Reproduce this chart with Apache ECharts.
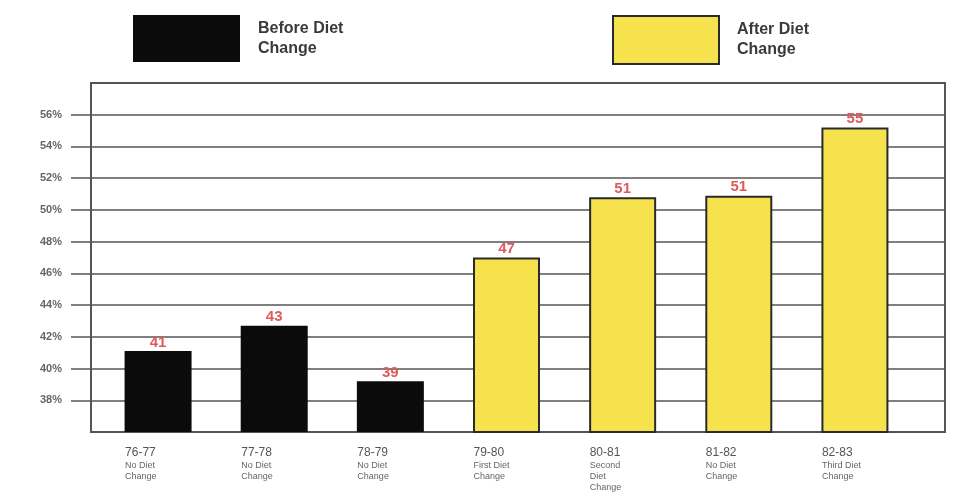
<!DOCTYPE html>
<html>
<head>
<meta charset="utf-8">
<script src="https://cdn.jsdelivr.net/npm/echarts@6/dist/echarts.min.js"></script>
<style>html,body{margin:0;padding:0;background:#fff;}#c{width:956px;height:499px;}</style>
</head>
<body>
<div id="c"></div>
<script>
var years = ['76-77', '77-78', '78-79', '79-80', '80-81', '81-82', '82-83'];
var notes = ['No Diet\nChange', 'No Diet\nChange', 'No Diet\nChange', 'First Diet\nChange', 'Second\nDiet\nChange', 'No Diet\nChange', 'Third Diet\nChange'];
var beforeValues = [41.1, 42.7, 39.2, null, null, null, null];
var afterValues = [null, null, null, 47.0, 50.8, 50.9, 55.2];
var seriesNames = ['Before Diet\nChange', 'After Diet\nChange'];

var FONT = 'Liberation Sans, Arial, sans-serif';
var chart = echarts.init(document.getElementById('c'));
var labelStyle = {
  show: true, position: 'top', distance: 1,
  color: '#e05a5a', fontSize: 15, fontWeight: 'bold', fontFamily: FONT,
  formatter: function (p) { return Math.round(p.value); }
};
var legendText = { color: '#3a3a3a', fontSize: 16, fontWeight: 'bold', fontFamily: FONT, lineHeight: 20, padding: [0, 0, 0, 13] };
chart.setOption({
  animation: false,
  legend: [
    { data: [seriesNames[0]], left: 128, top: 10, icon: 'rect', itemWidth: 107, itemHeight: 47, textStyle: legendText, selectedMode: false },
    { data: [seriesNames[1]], left: 607, top: 10, icon: 'rect', itemWidth: 106, itemHeight: 48, textStyle: legendText, selectedMode: false }
  ],
  grid: [
    { left: 91, right: 11, top: 83, bottom: 67, show: true, borderColor: '#555', borderWidth: 2, backgroundColor: 'transparent' },
    { left: 100, right: 43, top: 83, bottom: 67 }
  ],
  xAxis: [
    { gridIndex: 0, type: 'value', min: 0, max: 1, show: false },
    { gridIndex: 1, type: 'category', data: years,
      axisLine: { show: false }, axisTick: { show: false },
      axisLabel: {
        margin: 14, interval: 0, fontFamily: FONT,
        formatter: function (v, i) { return '{y|' + v + '}\n{d|' + notes[i].split('\n').join('}\n{d|') + '}'; },
        rich: {
          y: { fontSize: 12, color: '#555', lineHeight: 14, fontFamily: FONT, width: 66, align: 'left' },
          d: { fontSize: 9, color: '#666', lineHeight: 11, fontFamily: FONT, width: 66, align: 'left' }
        }
      }
    }
  ],
  yAxis: [
    { gridIndex: 0, type: 'value', min: 36, max: 58, interval: 2,
      axisLine: { show: true, lineStyle: { color: '#555', width: 2 } },
      axisTick: { show: true, length: 20, lineStyle: { color: '#555', width: 1.5 } },
      splitLine: { show: true, lineStyle: { color: '#555', width: 1.5 } },
      axisLabel: { margin: 29, color: '#666', fontSize: 11, fontWeight: 'bold', fontFamily: FONT,
        showMinLabel: false, showMaxLabel: false, formatter: '{value}%' }
    },
    { gridIndex: 1, type: 'value', min: 36, max: 58, interval: 2, show: false, splitLine: { show: false } }
  ],
  series: [
    { name: seriesNames[0], type: 'bar', xAxisIndex: 1, yAxisIndex: 1, data: beforeValues,
      barWidth: 67, barGap: '-100%', itemStyle: { color: '#0b0b0b' }, label: labelStyle },
    { name: seriesNames[1], type: 'bar', xAxisIndex: 1, yAxisIndex: 1, data: afterValues,
      barWidth: 67, barGap: '-100%', itemStyle: { color: '#f5e24c', borderColor: '#2a2a2a', borderWidth: 2 }, label: labelStyle }
  ]
});
</script>
</body>
</html>
